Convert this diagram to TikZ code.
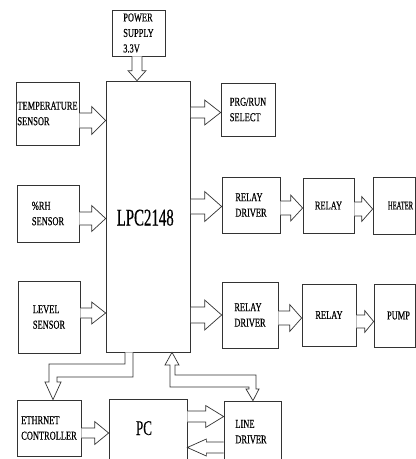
\documentclass[tikz,border=0pt]{standalone}
\usepackage{fontspec}
\newfontfamily\nf{Liberation Serif}[FakeStretch=0.7,FakeBold=0.4]
\newfontfamily\bigface{Liberation Serif}[FakeStretch=0.62,FakeBold=0.3]
\usetikzlibrary{calc}
\tikzset{
  box/.style={draw=black!80, line width=0.7pt, font=\nf\fontsize{12}{15.5}\selectfont, align=left, inner sep=0pt, anchor=center},
  blk/.style={draw=black!80, line width=0.7pt, fill=white, line join=miter},
}
% box: name, x1, y1, x2, y2, text
\newcommand\bx[6]{\node[box, minimum width={(#4-#2)*1pt}, minimum height={(#5-#3)*1pt}] (#1) at ({(#2+#4)/2},{(#3+#5)/2}) {#6};}
% right block arrow: src, dst, y centre, shaft half width, head half width, head length
\newcommand\rarr[6]{\draw[blk] (#1.east |- 0,{#3-#4}) -- ($(#2.west |- 0,{#3-#4})+(-#6,0)$) -- ($(#2.west |- 0,{#3-#5})+(-#6,0)$) -- (#2.west |- 0,#3) -- ($(#2.west |- 0,{#3+#5})+(-#6,0)$) -- ($(#2.west |- 0,{#3+#4})+(-#6,0)$) -- (#1.east |- 0,{#3+#4});}
% left block arrow
\newcommand\larr[6]{\draw[blk] (#1.west |- 0,{#3-#4}) -- ($(#2.east |- 0,{#3-#4})+(#6,0)$) -- ($(#2.east |- 0,{#3-#5})+(#6,0)$) -- (#2.east |- 0,#3) -- ($(#2.east |- 0,{#3+#5})+(#6,0)$) -- ($(#2.east |- 0,{#3+#4})+(#6,0)$) -- (#1.west |- 0,{#3+#4});}
% down block arrow: src, dst, x centre, shaft half width, head half width, head length
\newcommand\darr[6]{\draw[blk] (#1.south -| {#3-#4},0) -- ($(#2.north -| {#3-#4},0)+(0,-#6)$) -- ($(#2.north -| {#3-#5},0)+(0,-#6)$) -- (#2.north -| #3,0) -- ($(#2.north -| {#3+#5},0)+(0,-#6)$) -- ($(#2.north -| {#3+#4},0)+(0,-#6)$) -- (#1.south -| {#3+#4},0);}
\begin{document}
\begin{tikzpicture}[x=1pt,y=-1pt]
\path[use as bounding box, fill=white] (0,0) rectangle (416,459);
\clip (0,0) rectangle (416,459);
\bx{pow}{112}{10}{165}{56}{POWER\\SUPPLY\\3.3V}
\bx{lpc}{106}{81}{190.5}{352}{\hspace*{-6pt}\raisebox{-9pt}[0pt][0pt]{\bigface\fontsize{24}{26}\selectfont LPC2148}}
\bx{temp}{16}{82}{79}{145}{TEMPERATURE\\SENSOR}
\bx{rh}{17}{185}{79}{242}{\%RH\\SENSOR}
\bx{lvl}{18}{281}{80}{353}{LEVEL\\SENSOR}
\bx{prg}{221}{83}{275}{136}{PRG/RUN\\SELECT}
\bx{rd1}{222}{177}{280}{233}{RELAY\\DRIVER}
\bx{r1}{303}{178}{354}{233}{RELAY}
\bx{heat}{373}{177}{415}{234}{\hspace*{13pt}\scalebox{0.78}[1]{HEATER}}
\bx{rd2}{222}{282}{278}{348}{RELAY\\DRIVER}
\bx{r2}{302}{284}{356}{346}{RELAY}
\bx{pump}{374}{284}{415}{347}{\hspace*{8pt}PUMP}
\bx{eth}{17}{400}{81}{456}{ETHRNET\\CONTROLLER}
\bx{pc}{109}{399}{187}{480}{\hspace*{-8pt}\raisebox{4.5pt}[0pt][0pt]{\bigface\fontsize{21}{24}\selectfont PC}}
\bx{ld}{224}{401}{281}{480}{\hspace*{-3pt}\raisebox{5pt}[0pt][0pt]{\begin{tabular}{@{}l@{}}LINE\\DRIVER\end{tabular}}}
\rarr{temp}{lpc}{120.5}{7.5}{14}{14}
\rarr{rh}{lpc}{218.5}{6.5}{13}{14}
\rarr{lvl}{lpc}{313}{5}{11}{14}
\rarr{lpc}{prg}{112.5}{5.5}{12.5}{16}
\rarr{lpc}{rd1}{206.5}{7.5}{15}{17}
\rarr{rd1}{r1}{208}{7}{13}{12}
\rarr{r1}{heat}{209}{7}{12.5}{11}
\rarr{lpc}{rd2}{315}{8}{15}{17}
\rarr{rd2}{r2}{318}{7}{13.5}{12}
\rarr{r2}{pump}{321.5}{6.5}{11}{9}
\rarr{eth}{pc}{433}{5}{11.5}{14}
\rarr{pc}{ld}{416.5}{5.5}{11}{18}
\larr{ld}{pc}{447.5}{5.5}{8.5}{19}
\darr{pow}{lpc}{137}{5}{9}{10}
\draw[blk] (125,0 |- lpc.south) -- (125,364) -- (49,364) -- (49,382) -- (45,382) -- (53,0 |- eth.north) -- (61,382) -- (57,382) -- (57,377) -- (133,377) -- (133,0 |- lpc.south);
\draw[blk] (172,0 |- lpc.south) -- (179,365) -- (175,365) -- (175,375) -- (256,375) -- (256,389) -- (259,389) -- (253,0 |- ld.north) -- (246,389) -- (249,389) -- (249,387) -- (170,387) -- (170,365) -- (165,365) -- cycle;
\end{tikzpicture}
\end{document}
